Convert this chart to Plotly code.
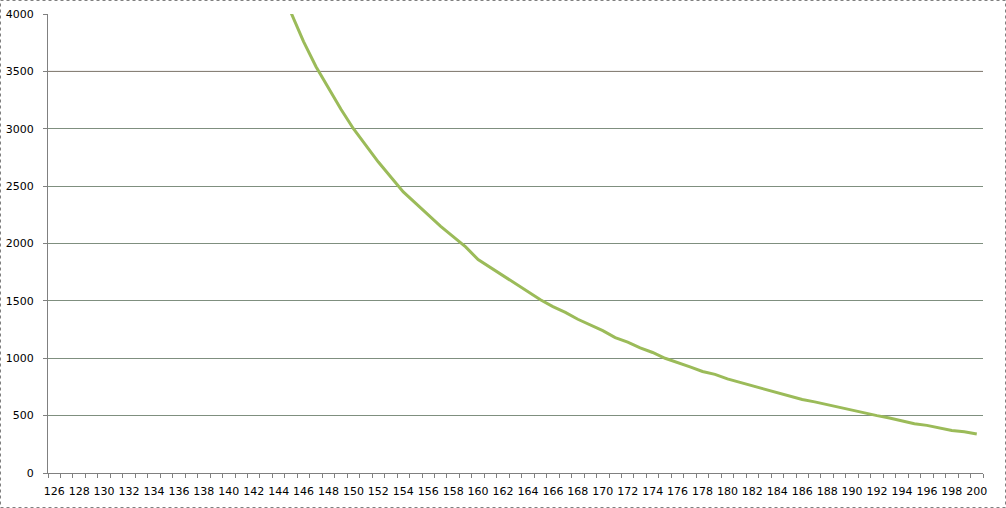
import plotly.graph_objects as go

# categories shown on the x axis
categories = list(range(126, 201))
label_vals = list(range(126, 201, 2))

# curve values (145..200), earlier points lie above the 4000 limit
curve_x = list(range(145, 201))
curve_y = [4010, 3760, 3540, 3350, 3170, 3000, 2850, 2710, 2580, 2450,
           2350, 2250, 2150, 2060, 1970, 1860, 1790, 1720, 1650, 1580,
           1510, 1450, 1400, 1340, 1290, 1240, 1180, 1140, 1090, 1050,
           1000, 965, 925, 885, 860, 820, 790, 760, 730, 700,
           670, 640, 620, 595, 570, 545, 525, 500, 480, 455,
           430, 415, 395, 370, 360, 340]

# horizontal reference level
limit = 3500

W, H = 1006, 508
L, R, T, B = 48, 23, 14, 35
pw, ph = W - L - R, H - T - B

fig = go.Figure()

fig.add_trace(go.Scatter(
    x=[categories[0] - 0.5, categories[-1] + 0.5], y=[limit, limit],
    mode="lines", line=dict(color="#8a8078", width=1),
    showlegend=False, hoverinfo="skip"
))

fig.add_trace(go.Scatter(
    x=curve_x, y=curve_y, mode="lines",
    line=dict(color="#9bbb59", width=3),
    showlegend=False
))

fig.update_layout(
    width=W, height=H,
    margin=dict(l=L, r=R, t=T, b=B, autoexpand=False),
    paper_bgcolor="white", plot_bgcolor="white",
    font=dict(family="DejaVu Sans", size=11, color="black"),
    xaxis=dict(
        range=[categories[0] - 0.5, categories[-1] + 0.5],
        tickvals=label_vals, ticktext=[str(v) for v in label_vals],
        ticks="", showgrid=False, zeroline=False, automargin=False,
        showline=True, linecolor="#808080", linewidth=1,
        minor=dict(tick0=125.5, dtick=1, ticks="outside", ticklen=4,
                   tickcolor="#808080", showgrid=False),
        tickangle=0, ticklabelstandoff=8,
    ),
    yaxis=dict(
        range=[0, 4000], tick0=0, dtick=500,
        ticks="outside", ticklen=4, tickcolor="#808080",
        showgrid=True, gridcolor="#7f8f7f", gridwidth=1,
        zeroline=False, automargin=False, ticklabelstandoff=7,
        showline=True, linecolor="#808080", linewidth=1,
    ),
    shapes=[dict(
        type="rect", xref="paper", yref="paper",
        x0=-(L - 0.5) / pw, x1=1 + (R - 0.5) / pw,
        y0=-(B - 0.5) / ph, y1=1 + (T - 0.5) / ph,
        line=dict(color="#808080", width=1, dash="dot"),
    )],
)

fig.write_html("out.html", config={"displayModeBar": False},
               post_script="document.body.style.margin='0';")
